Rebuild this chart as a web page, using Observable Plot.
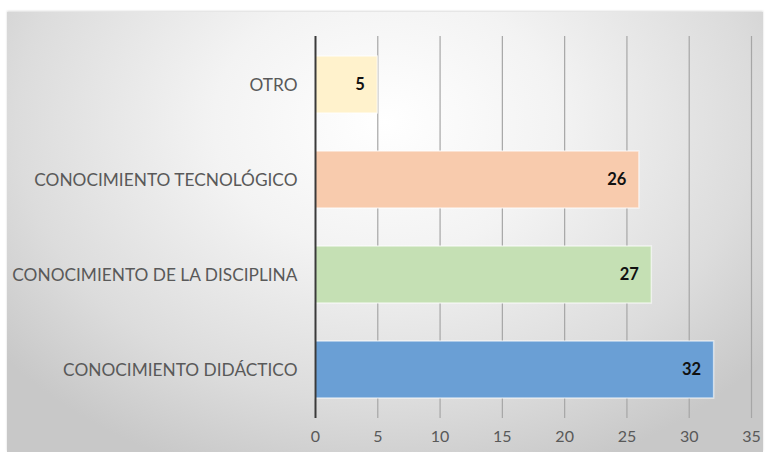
<!DOCTYPE html>
<html>
<head>
<meta charset="utf-8">
<script src="https://cdn.jsdelivr.net/npm/d3@7"></script>
<script src="https://cdn.jsdelivr.net/npm/@observablehq/plot@0.6"></script>
<style>
  html, body { margin: 0; padding: 0; background: #fff; }
  #wrap {
    position: absolute; left: 7px; top: 12px; width: 756px; height: 440px;
    background: radial-gradient(ellipse 65% 85% at 50% 25%, #ffffff 0%, #f3f3f3 35%, #dcdcdc 75%, #c8c8c8 100%);
    box-shadow: 0 -1px 2px rgba(0,0,0,0.15);
  }
  svg { font-family: Lato, "Open Sans", sans-serif; }
</style>
</head>
<body>
<div id="wrap"></div>
<script>
const categories = ["OTRO", "CONOCIMIENTO TECNOLÓGICO", "CONOCIMIENTO DE LA DISCIPLINA", "CONOCIMIENTO DIDÁCTICO"];
const values = [5, 26, 27, 32];
const colors = ["#FFF2CC", "#F8CBAD", "#C5E0B4", "#6A9FD5"];
const xTicks = [0, 5, 10, 15, 20, 25, 30, 35];

const data = categories.map((c, i) => ({category: c, value: values[i], color: colors[i]}));

const chart = Plot.plot({
  width: 756,
  height: 440,
  marginLeft: 308,
  marginRight: 12,
  marginTop: 24,
  marginBottom: 34,
  style: {background: "transparent", fontSize: "16px", color: "#595959"},
  x: {domain: [0, 35], ticks: xTicks, label: null, tickSize: 0, tickPadding: 12},
  y: {domain: categories, label: null, paddingInner: 0.4, paddingOuter: 0.2, axis: null},
  marks: [
    Plot.axisY({tickSize: 0, tickPadding: 18, fontSize: 17.3, label: null}),
    Plot.ruleX(xTicks.filter(d => d !== 0), {stroke: "#a6a6a6", strokeWidth: 1.2}),
    Plot.barX(data, {y: "category", x: "value", fill: "color", stroke: "#ffffff", strokeOpacity: 0.6, strokeWidth: 1.5}),
    Plot.ruleX([0], {stroke: "#3a3a3a", strokeWidth: 2}),
    Plot.text(data, {y: "category", x: "value", text: d => String(d.value), dx: -13, textAnchor: "end", fontWeight: "bold", fill: "#111", fontSize: 16.5})
  ]
});
document.getElementById("wrap").appendChild(chart);
</script>
</body>
</html>
